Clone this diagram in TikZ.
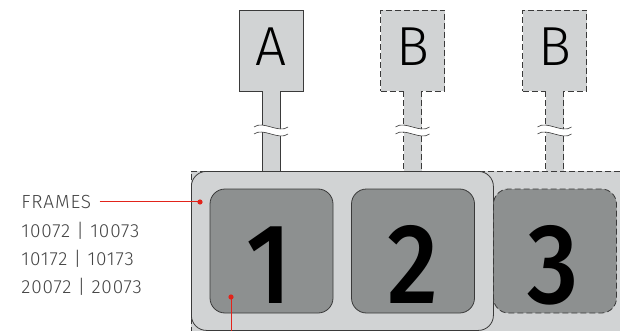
\documentclass[tikz,border=0pt]{standalone}
\usepackage{fontspec}
\usepackage{graphicx}
\setmainfont{Fira Sans}
\newfontfamily\lightfont{Fira Sans Light}
\newfontfamily\lbllight[LetterSpace=4.5]{Fira Sans Light}
\newfontfamily\medfont{Fira Sans Medium}
\newcommand\bigdigit[1]{\scalebox{0.88}[1]{#1}}
\usetikzlibrary{calc}
\definecolor{lgray}{HTML}{D1D3D4}
\definecolor{dgray}{HTML}{8D9090}
\definecolor{edge}{HTML}{3A3A3A}
\definecolor{txt}{HTML}{444444}
\definecolor{mred}{HTML}{E2231A}
\begin{document}
\begin{tikzpicture}[x=1pt,y=-1pt,line width=0.8pt,
  dsh/.style={dash pattern=on 6pt off 3pt},
  topbox/.style={draw=edge,fill=lgray,minimum width=64pt,minimum height=81pt,inner sep=0pt},
  letter/.style={font=\lightfont\fontsize{55}{55}\selectfont,text=black,anchor=base,inner sep=0pt},
  keybox/.style={draw=edge,fill=dgray,rounded corners=15pt,minimum width=123pt,minimum height=124pt,inner sep=0pt},
  digit/.style={font=\medfont\fontsize{114}{114}\selectfont,text=black,anchor=base,inner sep=0pt},
  lbl/.style={font=\lbllight\fontsize{19}{19}\selectfont,text=txt,anchor=base west,inner sep=0pt},
  redline/.style={draw=mred,line width=0.9pt},
  stemfill/.style={fill=lgray,draw=none},
  brk/.pic={
    \fill[white] (-17,-1) .. controls (-8,-8) and (8,6) .. (17,-1) -- (17,6) .. controls (8,13) and (-8,-1) .. (-17,6) -- cycle;
    \draw[edge,line width=0.6pt] (-17,-1) .. controls (-8,-8) and (8,6) .. (17,-1);
    \draw[edge,line width=0.6pt] (-17,6) .. controls (-8,-1) and (8,13) .. (17,6);
  }]
\useasboundingbox (0,0) rectangle (620,331);
\clip (0,0) rectangle (620,331);
% frames
\node[draw=edge,fill=lgray,dsh,minimum width=449pt,minimum height=179pt,inner sep=0pt,anchor=north west] (outer) at (191,171) {};
\node[draw=edge,fill=lgray,rounded corners=15pt,minimum width=302pt,minimum height=159pt,inner sep=0pt,anchor=north west] (frame) at (191,171) {};
% top boxes
\node[topbox] (A) at (271,50.5) {};
\node[topbox,dsh] (B1) at (412.5,50.5) {};
\node[topbox,dsh] (B2) at (554.5,50.5) {};
\node[letter] (lA) at (271,66) {A};
\node[letter] (lB1) at (412.5,66) {B};
\node[letter] (lB2) at (554.5,66) {B};
% stems
\foreach \n/\s in {A/solid,B1/dsh,B2/dsh}{
  \fill[stemfill] ($(\n.south)+(-9,0)$) rectangle ($(\n.south|-outer.north)+(9,0)$);
  \draw[edge,\s] ($(\n.south)+(-9,0)$) -- ($(\n.south|-outer.north)+(-9,0)$);
  \draw[edge,\s] ($(\n.south)+(9,0)$) -- ($(\n.south|-outer.north)+(9,0)$);
  \pic at ($(\n.south|-0,128)$) {brk};
}
% keys
\node[keybox] (k1) at (271.5,251) {};
\node[keybox] (k2) at (413,251) {};
\node[keybox,dsh] (k3) at (555,251) {};
\node[digit] (d1) at ($(k1.center|-0,303)+(-2,0)$) {\bigdigit{1}};
\node[digit] (d2) at (k2.center|-0,303) {\bigdigit{2}};
\node[digit] (d3) at ($(k3.center|-0,303)+(-2,0)$) {\bigdigit{3}};
% labels
\node[lbl] (fr) at (21,208) {FRAMES};
\node[lbl] (r1) at (21,237) {10072 | 10073};
\node[lbl] (r2) at (21,265) {10172 | 10173};
\node[lbl] (r3) at (21,293) {20072 | 20073};
\coordinate (p1) at (200,202);
\coordinate (p2) at (231,297);
\coordinate (p3) at (231,340);
\draw[redline] ($(fr.east)+(8,0)$) -- (fr.east-|p1);
\draw[redline] (p2) -- (p3);
\fill[mred] (p1) circle (2.6pt);
\fill[mred] (p2) circle (2.6pt);
\end{tikzpicture}
\end{document}
